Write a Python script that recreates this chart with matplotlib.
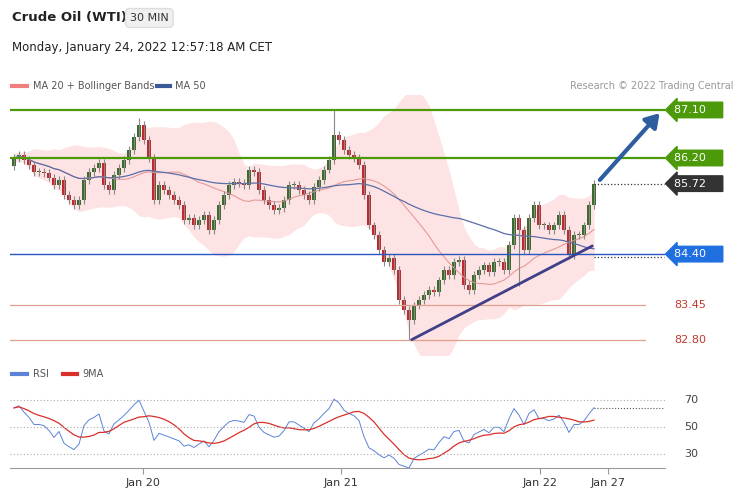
import numpy as np
import pandas as pd
import matplotlib.pyplot as plt

# 30 min closes (Crude Oil WTI)
closes = [86.20, 86.26, 86.16, 86.07, 85.94, 85.94, 85.92, 85.83, 85.69, 85.79,
          85.51, 85.41, 85.32, 85.41, 85.79, 85.94, 86.01, 86.11, 85.69, 85.60,
          85.88, 86.01, 86.16, 86.35, 86.59, 86.82, 86.54, 86.20, 85.41, 85.69,
          85.60, 85.51, 85.41, 85.32, 85.04, 85.08, 84.94, 85.04, 85.13, 84.85,
          85.04, 85.32, 85.51, 85.69, 85.75, 85.73, 85.69, 85.98, 85.94, 85.60,
          85.41, 85.32, 85.23, 85.26, 85.41, 85.69, 85.69, 85.60, 85.51, 85.41,
          85.66, 85.79, 85.98, 86.16, 86.63, 86.54, 86.35, 86.26, 86.20, 86.07,
          85.51, 84.94, 84.76, 84.48, 84.25, 84.33, 84.10, 83.54, 83.35, 83.16,
          83.44, 83.54, 83.63, 83.73, 83.69, 83.91, 84.10, 84.01, 84.25, 84.29,
          83.82, 83.73, 84.01, 84.10, 84.19, 84.06, 84.25, 84.25, 84.10, 84.57,
          85.08, 84.85, 84.48, 85.08, 85.32, 84.94, 84.94, 84.85, 84.94, 85.13,
          84.85, 84.38, 84.76, 84.76, 84.94, 85.32, 85.72]
first_open = 86.05
wick = 0.07
special_highs = {64: 87.10, 25: 86.95}
special_lows = {79: 82.80, 101: 83.80}

levels_green = [87.10, 86.20]
level_blue = 84.40
levels_red = [83.45, 82.80]
last_price = 85.72

tick_pos = [25.8, 65.4, 105.2, 118.8]
tick_labels = ["Jan 20", "Jan 21", "Jan 22", "Jan 27"]

c = pd.Series(closes)
o = c.shift(1).fillna(first_open)
n = len(c)
x = np.arange(n)
hi = np.maximum(o, c) + wick
lo = np.minimum(o, c) - wick
for k, v in special_highs.items():
    hi[k] = v
for k, v in special_lows.items():
    lo[k] = v

ma20 = c.rolling(20, min_periods=1).mean()
sd20 = c.rolling(20, min_periods=2).std().bfill()
ma50 = c.rolling(50, min_periods=1).mean()
up = ma20 + 2 * sd20
dn = ma20 - 2 * sd20

# Wilder RSI, seeded so the first bars are not extreme
d = (c - o).values
ag, al = 0.06, 0.04
rsi = []
for v in d:
    ag = (ag * 13 + max(v, 0)) / 14
    al = (al * 13 + max(-v, 0)) / 14
    rsi.append(100 - 100 / (1 + ag / al))
rsi = pd.Series(rsi)
rsi9 = rsi.rolling(9, min_periods=1).mean()

fig = plt.figure(figsize=(7.38, 5), dpi=100)
W, H = 738, 500
ax = fig.add_axes([10 / W, 1 - 355 / H, 655 / W, 260 / H])
ar = fig.add_axes([10 / W, 1 - 468 / H, 655 / W, 83 / H])

xl = (-0.8, 130.2)
green = "#4c9a0a"
ax.fill_between(x, dn, up, color="#fde3e3", lw=0)
ax.plot(x, ma20, color="#e59a9a", lw=0.8)
ax.plot(x, ma50, color="#5a6ea8", lw=0.9)
for i in range(n):
    col = "#3a6b2a" if c[i] >= o[i] else "#c0282d"
    ax.vlines(x[i], lo[i], hi[i], color="#888888", lw=0.8)
    ax.bar(x[i], c[i] - o[i] if c[i] != o[i] else 0.02, bottom=o[i], width=0.7, color=col, lw=0)

for lv in levels_green:
    ax.axhline(lv, color=green, lw=1.6)
    ax.text(132, lv, f"{lv:.2f}    ", color="white", fontsize=8,
            va="center", ha="left", clip_on=False,
            bbox=dict(boxstyle="larrow,pad=0.25", fc=green, ec=green))
ax.axhline(level_blue, color="#2a55c0", lw=1)
ax.text(132, level_blue, f"{level_blue:.2f}    ", color="white", fontsize=8, va="center",
        ha="left", clip_on=False, bbox=dict(boxstyle="larrow,pad=0.25", fc="#1f6fe0", ec="#1f6fe0"))
for lv in levels_red:
    ax.axhline(lv, xmax=0.97, color="#e0a090", lw=0.9)
    ax.text(132, lv, f"{lv:.2f}", color="#c0392b", fontsize=8, va="center", ha="left", clip_on=False)
ax.text(132, last_price, f"{last_price:.2f}    ", color="white", fontsize=8, va="center",
        ha="left", clip_on=False, bbox=dict(boxstyle="larrow,pad=0.25", fc="#333333", ec="#333333"))
ax.plot([n - 1, 130], [last_price, last_price], ls=":", color="#333333", lw=0.9)
ax.plot([n - 1, 130], [84.35, 84.35], ls=":", color="#333333", lw=0.9)
ax.plot([79.6, 115.6], [82.80, 84.55], color="#3f3f8a", lw=2)
ax.annotate("", xy=(129.5, 87.08), xytext=(116.8, 85.75),
            arrowprops=dict(arrowstyle="-|>,head_width=0.5,head_length=0.8", color="#2f5ea0", lw=3))
ax.set_xlim(xl)
ax.set_ylim(82.51, 87.38)
ax.axis("off")

ar.plot(x, rsi, color="#5b84d6", lw=0.7)
ar.plot(x, rsi9, color="#d9302a", lw=0.9)
for lv in [70, 50, 30]:
    ar.axhline(lv, color="#aaaaaa", ls=(0, (1, 2)), lw=0.8)
    ar.text(134, lv, str(lv), fontsize=8, color="#444444", va="center", clip_on=False)
ar.plot([n - 1, 130], [rsi.iloc[-1]] * 2, ls=":", color="#555555", lw=0.8)
ar.set_xlim(xl)
ar.set_ylim(19.6, 81.1)
for s in ["top", "right", "left"]:
    ar.spines[s].set_visible(False)
ar.spines["bottom"].set_color("#999999")
ar.set_yticks([])
ar.set_xticks(tick_pos)
ar.set_xticklabels(tick_labels, fontsize=8, color="#333333")
ar.tick_params(axis="x", length=4, color="#999999")

fig.text(12 / W, 1 - 18 / H, "Crude Oil (WTI)", fontsize=9.5, fontweight="bold", va="center", color="#222222")
fig.text(130 / W, 1 - 18 / H, "30 MIN", fontsize=8, va="center", color="#333333",
         bbox=dict(boxstyle="round,pad=0.4", fc="#f0f0f0", ec="#dddddd"))
fig.text(12 / W, 1 - 48 / H, "Monday, January 24, 2022 12:57:18 AM CET", fontsize=8.5, va="center", color="#222222")
fig.add_artist(plt.Line2D([12 / W, 27 / W], [1 - 86 / H] * 2, color="#f08080", lw=3))
fig.text(33 / W, 1 - 86 / H, "MA 20 + Bollinger Bands", fontsize=7, va="center", color="#555555")
fig.add_artist(plt.Line2D([157 / W, 170 / W], [1 - 86 / H] * 2, color="#3a5a9a", lw=3))
fig.text(175 / W, 1 - 86 / H, "MA 50", fontsize=7, va="center", color="#555555")
fig.text(733 / W, 1 - 86 / H, "Research © 2022 Trading Central", fontsize=7, va="center", ha="right", color="#999999")
fig.add_artist(plt.Line2D([12 / W, 27 / W], [1 - 374 / H] * 2, color="#5b84d6", lw=3))
fig.text(33 / W, 1 - 374 / H, "RSI", fontsize=7, va="center", color="#555555")
fig.add_artist(plt.Line2D([63 / W, 77 / W], [1 - 374 / H] * 2, color="#d9302a", lw=3))
fig.text(82 / W, 1 - 374 / H, "9MA", fontsize=7, va="center", color="#555555")

fig.savefig("out.png", dpi=100)
